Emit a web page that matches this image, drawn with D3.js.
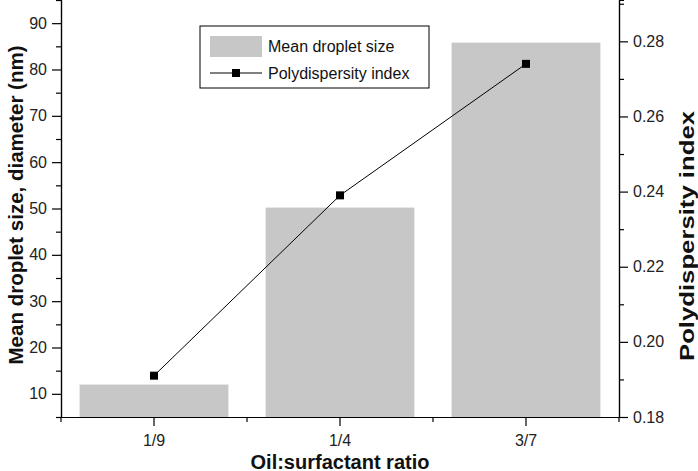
<!DOCTYPE html>
<html>
<head>
<meta charset="utf-8">
<script src="https://cdn.jsdelivr.net/npm/d3@7"></script>
<style>
  html, body { margin: 0; padding: 0; background: #fff; }
  svg { display: block; font-family: "Liberation Sans", Arial, sans-serif; }
</style>
</head>
<body>
<svg id="chart" width="698" height="471"></svg>
<script>
// ---- data ----
const categories = ["1/9", "1/4", "3/7"];
const meanDropletSize = [12.0, 50.2, 85.8];
const polydispersityIndex = [0.191, 0.239, 0.274];
const leftTicks = [10, 20, 30, 40, 50, 60, 70, 80, 90];
const leftMinorTicks = [5, 15, 25, 35, 45, 55, 65, 75, 85, 95];
const rightTicks = [0.18, 0.20, 0.22, 0.24, 0.26, 0.28];
const rightMinorTicks = [0.19, 0.21, 0.23, 0.25, 0.27, 0.29];
const seriesNames = ["Mean droplet size", "Polydispersity index"];
const xTitle = "Oil:surfactant ratio";
const yLeftTitle = "Mean droplet size, diameter (nm)";
const yRightTitle = "Polydispersity index";

// ---- layout ----
const W = 698, H = 471;
const margin = { left: 61, right: 79, top: 0, bottom: 54 };
const iw = W - margin.left - margin.right;
const ih = H - margin.top - margin.bottom;
const barColor = "#c7c7c7";

const svg = d3.select("#chart");
const g = svg.append("g").attr("transform", `translate(${margin.left},${margin.top})`);

const x = d3.scaleBand().domain(categories).range([0, iw]).paddingInner(0.2).paddingOuter(0.1);
const yL = d3.scaleLinear().domain([5, 95]).range([ih, 0]);
const yR = d3.scaleLinear().domain([0.18, 0.291]).range([ih, 0]);

// bars
g.selectAll("rect.bar").data(categories).join("rect")
  .attr("class", "bar")
  .attr("x", d => x(d))
  .attr("width", x.bandwidth())
  .attr("y", (d, i) => yL(meanDropletSize[i]))
  .attr("height", (d, i) => yL(5) - yL(meanDropletSize[i]))
  .attr("fill", barColor);

// line
const cx = d => x(d) + x.bandwidth() / 2;
const line = d3.line().x((d, i) => cx(categories[i])).y(d => yR(d));
g.append("path").datum(polydispersityIndex)
  .attr("d", line).attr("fill", "none").attr("stroke", "#000").attr("stroke-width", 1);
g.selectAll("rect.pt").data(polydispersityIndex).join("rect")
  .attr("class", "pt")
  .attr("x", (d, i) => cx(categories[i]) - 4)
  .attr("y", d => yR(d) - 4)
  .attr("width", 8).attr("height", 8).attr("fill", "#000");

// axes
const tickFont = "16px";
function styleAxis(sel) {
  sel.selectAll("path.domain").attr("stroke", "#000").attr("stroke-width", 1.2);
  sel.selectAll(".tick line").attr("stroke", "#000").attr("stroke-width", 1.2);
  sel.selectAll(".tick text").attr("fill", "#222").style("font-size", tickFont)
    .style("font-family", '"Liberation Sans", Arial, sans-serif');
}

// left minor
g.append("g").call(d3.axisLeft(yL).tickValues(leftMinorTicks).tickSize(5).tickFormat(""))
  .call(styleAxis);
g.append("g").call(d3.axisLeft(yL).tickValues(leftTicks).tickSize(9).tickSizeOuter(0).tickPadding(5).tickFormat(d3.format("d")))
  .call(styleAxis);

// right
g.append("g").attr("transform", `translate(${iw},0)`)
  .call(d3.axisRight(yR).tickValues(rightMinorTicks).tickSize(5).tickFormat(""))
  .call(styleAxis);
g.append("g").attr("transform", `translate(${iw},0)`)
  .call(d3.axisRight(yR).tickValues(rightTicks).tickSize(9).tickSizeOuter(0).tickPadding(5).tickFormat(d3.format(".2f")))
  .call(styleAxis);

// bottom
g.append("g").attr("transform", `translate(0,${ih})`)
  .call(d3.axisBottom(x).tickSize(9).tickSizeOuter(0).tickPadding(9))
  .call(styleAxis);
// minor bottom ticks at band boundaries
const boundaries = categories.map(c => x(c) - x.step() * x.paddingInner() / 2).concat([iw]);
g.append("g").attr("transform", `translate(0,${ih})`)
  .selectAll("line").data(boundaries).join("line")
  .attr("x1", d => d).attr("x2", d => d).attr("y1", 0).attr("y2", 5)
  .attr("stroke", "#000").attr("stroke-width", 1.2);

// titles
svg.append("text")
  .attr("x", margin.left + iw / 2).attr("y", 468.5)
  .attr("text-anchor", "middle")
  .style("font-size", "20px").style("font-weight", "bold").attr("fill", "#111")
  .text(xTitle);
svg.append("text")
  .attr("transform", `translate(23,205) rotate(-90)`)
  .attr("text-anchor", "middle")
  .style("font-size", "20.5px").style("font-weight", "bold").attr("fill", "#111")
  .text(yLeftTitle);
svg.append("text")
  .attr("transform", `translate(694,236) rotate(-90)`)
  .attr("text-anchor", "middle")
  .attr("textLength", 250).attr("lengthAdjust", "spacingAndGlyphs")
  .style("font-size", "21px").style("font-weight", "bold").attr("fill", "#111")
  .text(yRightTitle);

// legend
const lg = svg.append("g").attr("transform", "translate(200,26)");
lg.append("rect").attr("width", 229).attr("height", 62)
  .attr("fill", "#fff").attr("stroke", "#000").attr("stroke-width", 1);
lg.append("rect").attr("x", 10).attr("y", 10).attr("width", 52).attr("height", 21).attr("fill", barColor);
lg.append("text").attr("x", 68).attr("y", 20.5).attr("dy", "0.35em")
  .style("font-size", "16px").attr("fill", "#111").text(seriesNames[0]);
lg.append("line").attr("x1", 10).attr("x2", 62).attr("y1", 47).attr("y2", 47)
  .attr("stroke", "#000").attr("stroke-width", 1);
lg.append("rect").attr("x", 32).attr("y", 43).attr("width", 8).attr("height", 8).attr("fill", "#000");
lg.append("text").attr("x", 68).attr("y", 47).attr("dy", "0.35em")
  .style("font-size", "16px").attr("fill", "#111").text(seriesNames[1]);
</script>
</body>
</html>
